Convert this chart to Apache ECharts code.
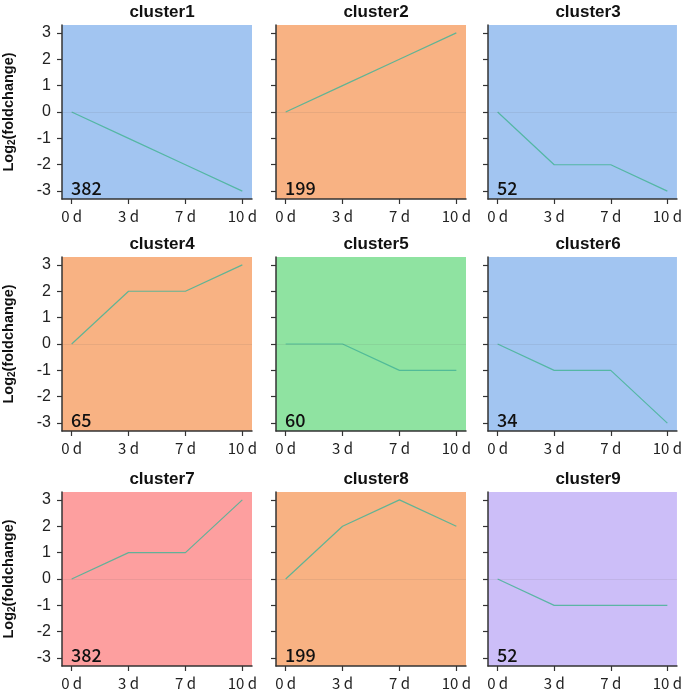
<!DOCTYPE html>
<html><head><meta charset="utf-8">
<script src="https://cdn.jsdelivr.net/npm/echarts@6/dist/echarts.min.js"></script>
<style>html,body{margin:0;padding:0;background:#fff}#c{width:685px;height:694px}</style>
</head><body><div id="c"></div>
<script>
const timeLabels = ['0 d', '3 d', '7 d', '10 d'];
const clusterNames = ['cluster1','cluster2','cluster3','cluster4','cluster5','cluster6','cluster7','cluster8','cluster9'];
const clusterCounts = [382, 199, 52, 65, 60, 34, 382, 199, 52];
const c1 = [0, -1, -2, -3];
const c2 = [0, 1, 2, 3];
const c3 = [0, -2, -2, -3];
const c4 = [0, 2, 2, 3];
const c5 = [0, 0, -1, -1];
const c6 = [0, -1, -1, -3];
const c7 = [0, 1, 1, 3];
const c8 = [0, 2, 3, 2];
const c9 = [0, -1, -1, -1];
const clusterValues = [c1, c2, c3, c4, c5, c6, c7, c8, c9];
const yTicks = [-3, -2, -1, 0, 1, 2, 3];

const bgColors = ['#a2c5f1','#f8b283','#a2c5f1','#f8b283','#8fe3a1','#a2c5f1','#fd9f9f','#f8b283','#ccbef8'];
const colLeft = [62, 276, 488];
const rowTop = [25, 257, 492];
const W = 190, H = 174;

const grids = [], xAxes = [], yAxes = [], series = [], titles = [];
for (let i = 0; i < 9; i++) {
  const r = Math.floor(i / 3), c = i % 3;
  grids.push({left: colLeft[c], top: rowTop[r], width: W, height: H, show: true,
    backgroundColor: bgColors[i], borderWidth: 0, containLabel: false});
  xAxes.push({gridIndex: i, type: 'value', min: -0.17, max: 3.17,
    axisLine: {show: true, onZero: false, lineStyle: {color: '#333', width: 1.5}},
    axisTick: {show: true, length: 5, customValues: [0,1,2,3], lineStyle: {color: '#333', width: 1.2}},
    axisLabel: {customValues: [0,1,2,3], formatter: v => timeLabels[Math.round(v)] || '',
      color: '#222', fontSize: 15, margin: 10, fontFamily: 'Noto Sans CJK SC'},
    splitLine: {show: false}});
  yAxes.push({gridIndex: i, type: 'value', min: -3.3, max: 3.3,
    axisLine: {show: true, onZero: false, lineStyle: {color: '#333', width: 1.5}},
    axisTick: {show: true, length: 5, customValues: yTicks, lineStyle: {color: '#333', width: 1.2}},
    axisLabel: {show: c === 0, customValues: yTicks, color: '#222', fontSize: 16, margin: 11,
      fontFamily: 'Liberation Sans'},
    splitLine: {show: false},
    name: c === 0 ? '{a|Log}{s|2}{a|(foldchange)}' : '',
    nameLocation: 'middle', nameRotate: 90, nameGap: 45,
    nameTextStyle: {rich: {
      a: {fontSize: 14.5, fontWeight: 'bold', color: '#111', fontFamily: 'Liberation Sans'},
      s: {fontSize: 10, fontWeight: 'bold', color: '#111', fontFamily: 'Liberation Sans', verticalAlign: 'bottom', padding: [7,0,0,0]}
    }}});
  series.push({type: 'line', xAxisIndex: i, yAxisIndex: i,
    data: clusterValues[i].map((v, k) => [k, v]),
    symbol: 'none', lineStyle: {color: 'rgba(70,180,150,0.85)', width: 1.2},
    markLine: {silent: true, symbol: 'none', label: {show: false},
      lineStyle: {color: 'rgba(90,90,90,0.10)', type: 'solid', width: 1},
      data: [{yAxis: 0}]}});
  titles.push({text: clusterNames[i], left: colLeft[c] + W / 2, top: rowTop[r] - 26, textAlign: 'center',
    textStyle: {fontSize: 17, fontWeight: 'bold', color: '#111', fontFamily: 'Liberation Sans'}});
  titles.push({text: String(clusterCounts[i]), left: colLeft[c] + 4, top: rowTop[r] + H - 25,
    textStyle: {fontSize: 18, fontWeight: 500, color: '#111', fontFamily: 'Noto Sans CJK SC'}});
}

const chart = echarts.init(document.getElementById('c'), null, {renderer: 'canvas'});
chart.setOption({animation: false, title: titles, grid: grids, xAxis: xAxes, yAxis: yAxes, series: series});
</script></body></html>
